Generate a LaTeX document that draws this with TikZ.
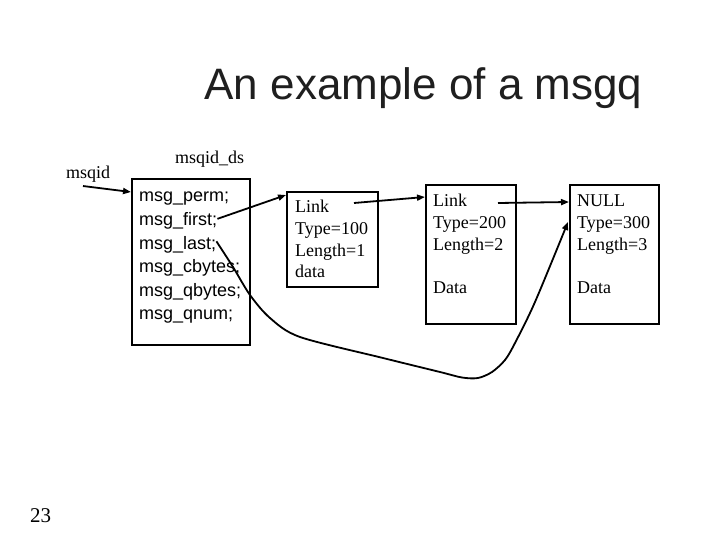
\documentclass[tikz,border=0pt]{standalone}
\usepackage{fontspec}
\setmainfont{Liberation Serif}
\newfontfamily\arialf{Liberation Sans}
\usetikzlibrary{arrows.meta,calc}
\begin{document}
\begin{tikzpicture}[x=1pt,y=-1pt,
  box/.style={draw,line width=2pt,minimum width=#1,inner sep=0pt},
  sline/.style={anchor=base west,inner sep=0pt,font=\arialf\fontsize{18}{20}\selectfont},
  tline/.style={anchor=base west,inner sep=0pt,font=\fontsize{18}{20}\selectfont},
  arr/.style={line width=1.8pt,-{Triangle[length=8pt,width=6pt]}},
  curv/.style={line width=1.8pt,-{Triangle[length=8pt,width=6pt]}}]
\useasboundingbox (0,0) rectangle (720,540);
% title
\node[anchor=base,inner sep=0pt,font=\arialf\fontsize{44}{48}\selectfont,text=black!88] (title) at (423.5,100) {An example of a msgq};
% labels
\node[tline] (msqid) at (66,179) {msqid};
\node[tline] (dslabel) at (175,164) {msqid\_ds};
\node[anchor=base west,inner sep=0pt,font=\fontsize{21}{24}\selectfont] (pg) at (30,522) {23};
% msqid_ds box
\node[box=118pt,minimum height=166pt] (ds) at (191,262) {};
\node[sline] (perm) at (139,202) {msg\_perm;};
\node[sline] (first) at (139,225.5) {msg\_first;};
\node[sline] (last) at (139,249) {msg\_last;};
\node[sline] (cbytes) at (139,272.5) {msg\_cbytes;};
\node[sline] (qbytes) at (139,296) {msg\_qbytes;};
\node[sline] (qnum) at (139,319.5) {msg\_qnum;};
% box 1
\node[box=91pt,minimum height=95pt] (b1) at (332.5,239.5) {};
\node[tline] (b1l1) at (295,213) {Link};
\node[tline] (b1l2) at (295,234.5) {Type=100};
\node[tline] (b1l3) at (295,256) {Length=1};
\node[tline] (b1l4) at (295,277.5) {data};
% box 2
\node[box=90pt,minimum height=139pt] (b2) at (471,254.5) {};
\node[tline] (b2l1) at (433,207) {Link};
\node[tline] (b2l2) at (433,228.5) {Type=200};
\node[tline] (b2l3) at (433,250) {Length=2};
\node[tline] (b2l4) at (433,293) {Data};
% box 3
\node[box=89pt,minimum height=139pt] (b3) at (614.5,254.5) {};
\node[tline] (b3l1) at (577,207) {NULL};
\node[tline] (b3l2) at (577,228.5) {Type=300};
\node[tline] (b3l3) at (577,250) {Length=3};
\node[tline] (b3l4) at (577,293) {Data};
% connector end points
\coordinate (m0) at ($(msqid.south west)+(17,3)$);
\coordinate (f0) at ($(first.east)+(0,-2)$);
\coordinate (l1s) at (354,203);
\coordinate (l2s) at (498,203);
\coordinate (c0) at ($(last.east)+(0,-3)$);
\draw[arr] (m0) -- ($(ds.north west)+(0,14)$);
\draw[arr] (f0) -- ($(b1.north west)+(0,4)$);
\draw[arr] (l1s) -- ($(b2.north west)+(0,13)$);
\draw[arr] (l2s) -- ($(b3.north west)+(0,18)$);
\draw[curv] plot[smooth,tension=0.5] coordinates {(c0) (233,267) (250,295) (270,318) (300,337) (383,358) (440,372) (462,377.5) (478,378) (492,372) (505,360) (515,343) (535,302) ($(b3.north west)+(-1,38)$)};
\end{tikzpicture}
\end{document}
